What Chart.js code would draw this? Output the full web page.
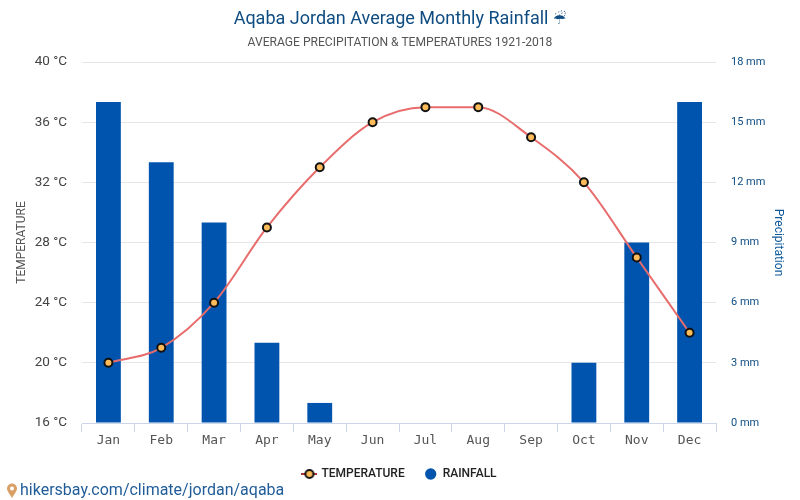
<!DOCTYPE html>
<html>
<head>
<meta charset="utf-8">
<script src="https://cdn.jsdelivr.net/npm/chart.js@4"></script>
<style>
  html, body { margin: 0; padding: 0; background: #fff; }
  #wrap { position: relative; width: 800px; height: 500px; overflow: hidden; font-family: Roboto, sans-serif; }
  #wrap canvas { position: absolute; left: 0; top: 0; }
  .title { position: absolute; left: 0; width: 800px; text-align: center; white-space: nowrap; }
  #main { top: 6px; font-size: 18px; line-height: 24px; color: #0f4c81; }
  #main span { font-family: "DejaVu Sans"; font-size: 15px; }
  #sub { top: 35px; font-size: 12.1px; line-height: 14px; color: #555; }
  #site { position: absolute; left: 6px; top: 480px; font-size: 16px; line-height: 20px; color: #1f5c99; white-space: nowrap; }
  #site svg { position: absolute; left: 0; top: 3px; }
  #site b { font-weight: 400; margin-left: 14px; }
</style>
</head>
<body>
<div id="wrap">
  <canvas id="rain-chart" width="800" height="500"></canvas>
  <div class="title" id="main">Aqaba Jordan Average Monthly Rainfall <span>☔</span></div>
  <div class="title" id="sub">AVERAGE PRECIPITATION &amp; TEMPERATURES 1921-2018</div>
  <div id="site">
    <svg width="12" height="16" viewBox="0 0 12 16"><path d="M6 15 C3 10 1 8 1 5.5 A5 5 0 0 1 11 5.5 C11 8 9 10 6 15Z" fill="#d9a066"/><circle cx="6" cy="5.5" r="2" fill="#fff"/></svg>
    <b>hikersbay.com/climate/jordan/aqaba</b>
  </div>
</div>
<script>
const months = ['Jan', 'Feb', 'Mar', 'Apr', 'May', 'Jun', 'Jul', 'Aug', 'Sep', 'Oct', 'Nov', 'Dec'];
const temperature = [20, 21, 24, 29, 33, 36, 37, 37, 35, 32, 27, 22];
const rainfall = [16, 13, 10, 4, 1, 0, 0, 0, 0, 3, 9, 16];

Chart.defaults.font.family = 'Roboto, sans-serif';

// legend marker for the line series: short line with the point on top
const lineMarker = document.createElement('canvas');
lineMarker.width = 16;
lineMarker.height = 12;
const mctx = lineMarker.getContext('2d');
mctx.strokeStyle = '#a33';
mctx.lineWidth = 2;
mctx.beginPath();
mctx.moveTo(0, 6);
mctx.lineTo(16, 6);
mctx.stroke();
mctx.fillStyle = '#fdbb5a';
mctx.strokeStyle = '#111';
mctx.beginPath();
mctx.arc(8, 6, 4, 0, Math.PI * 2);
mctx.fill();
mctx.stroke();

const rainChart = new Chart(document.getElementById('rain-chart').getContext('2d'), {
  data: {
    labels: months,
    datasets: [
      {
        type: 'line',
        label: 'TEMPERATURE',
        data: temperature,
        yAxisID: 'y',
        borderColor: '#e86c6c',
        borderWidth: 2,
        backgroundColor: '#fdbb5a',
        pointBorderColor: '#111',
        pointBorderWidth: 2,
        pointRadius: 4,
        pointStyle: 'circle',
        cubicInterpolationMode: 'monotone',
        order: 1
      },
      {
        type: 'bar',
        label: 'RAINFALL',
        data: rainfall,
        yAxisID: 'y1',
        backgroundColor: '#0054ad',
        barPercentage: 0.47,
        categoryPercentage: 1,
        pointStyle: 'circle',
        order: 2
      }
    ]
  },
  options: {
    responsive: false,
    animation: false,
    layout: { padding: { top: 62, bottom: 10 } },
    plugins: {
      title: { display: false },
      tooltip: { enabled: false },
      legend: {
        position: 'bottom',
        labels: {
          usePointStyle: true,
          boxHeight: 8,
          padding: 20,
          color: '#222',
          font: { size: 12, weight: '500' },
          generateLabels: function(chart) {
            const items = Chart.defaults.plugins.legend.labels.generateLabels(chart);
            items[0].pointStyle = lineMarker;
            return items;
          }
        }
      }
    },
    scales: {
      x: {
        offset: true,
        afterFit: function(axis) { axis.height = 25; },
        grid: {
          offset: true,
          drawOnChartArea: false,
          drawTicks: true,
          tickLength: 9,
          color: '#ccd6eb'
        },
        border: { color: '#ccd6eb' },
        ticks: {
          color: '#555',
          padding: 1,
          maxRotation: 0,
          font: { family: '"DejaVu Sans Mono", monospace', size: 13 }
        }
      },
      y: {
        position: 'left',
        min: 16,
        max: 40,
        afterFit: function(axis) { axis.width = 82; },
        title: { display: true, text: 'TEMPERATURE', color: '#555', font: { size: 12 }, padding: { top: 15, bottom: 0 } },
        grid: { color: '#e6e6e6', drawTicks: false },
        border: { display: false },
        ticks: {
          stepSize: 4,
          color: '#444',
          padding: 15,
          font: { size: 13.5 },
          callback: function(value) { return value + ' °C'; }
        }
      },
      y1: {
        position: 'right',
        min: 0,
        max: 18,
        afterFit: function(axis) { axis.width = 84; },
        title: { display: true, text: 'Precipitation', color: '#0f5a9c', font: { size: 12 }, padding: { top: 15, bottom: 0 } },
        grid: { drawOnChartArea: false, drawTicks: false },
        border: { display: false },
        ticks: {
          stepSize: 3,
          color: '#0f4c81',
          padding: 15,
          font: { size: 11 },
          callback: function(value) { return value + ' mm'; }
        }
      }
    }
  }
});
</script>
</body>
</html>
